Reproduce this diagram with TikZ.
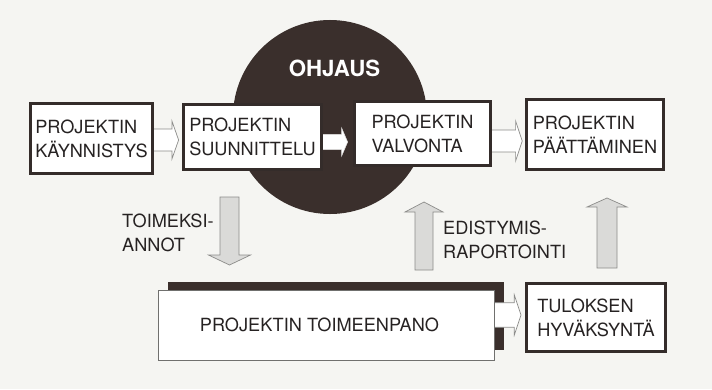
\documentclass[tikz,border=0pt]{standalone}
\usepackage{fontspec}
\setmainfont{TeX Gyre Heros}
\usetikzlibrary{calc}

\definecolor{paper}{RGB}{245,245,242}
\definecolor{steer}{RGB}{58,47,44}
\definecolor{frame}{RGB}{52,44,42}
\definecolor{ink}{RGB}{38,34,34}
\definecolor{stipple}{RGB}{218,218,216}
\definecolor{rim}{RGB}{140,140,138}

% block arrow: style, tail, tip, shaft half width, head half width, head length
\newcommand\blockarrow[6]{%
  \coordinate (ba-h) at ($(#3)!#6!(#2)$);
  \path[#1] ($(#2)!#4!90:(#3)$) -- ($(ba-h)!#4!90:(#3)$) -- ($(ba-h)!#5!90:(#3)$)
    -- (#3) -- ($(ba-h)!#5!-90:(#3)$) -- ($(ba-h)!#4!-90:(#3)$)
    -- ($(#2)!#4!-90:(#3)$) -- cycle;}

\begin{document}
\begin{tikzpicture}[x=0.03cm,y=-0.03cm,
  txt/.style={font=\fontsize{15.5}{20.5}\selectfont, text=ink},
  phasebox/.style={txt, draw=frame, line width=2.6pt, fill=white, align=left,
    inner sep=0pt},
  hollowarrow/.style={fill=white, draw=rim, line width=0.6pt, line join=miter},
  solidarrow/.style={fill=white, draw=white!85!steer, line width=0.5pt},
  flowarrow/.style={fill=stipple, draw=rim, line width=0.6pt},
  caption/.style={txt, align=left, inner sep=0pt, anchor=west}]

% paper
\path[fill=paper, use as bounding box] (0,0) rectangle (712,389);

% steering disc
\node[circle, fill=steer, minimum size=5.82cm, inner sep=0pt] (ohjaus) at (330,117) {};
\node[font=\fontsize{19}{22}\selectfont\bfseries, text=white] (ohjauslabel) at (334.5,68.5) {OHJAUS};

% positions of the phase boxes
\coordinate (p1) at (91.5,138.5);
\coordinate (p2) at (252.5,137);
\coordinate (p3) at (422.5,133.5);
\coordinate (p4) at (595,134.5);
\coordinate (p6) at (596,317.5);

% invisible anchors for the arrows between the top boxes
\path (p1) node[minimum width=3.66cm, minimum height=2.1cm] (b1a) {}
      (p2) node[minimum width=4.14cm, minimum height=1.95cm] (b2a) {}
      (p3) node[minimum width=4.08cm, minimum height=1.92cm] (b3a) {}
      (p4) node[minimum width=4.11cm, minimum height=2.1cm] (b4a) {};

\coordinate (a12t) at (b1a.east |- 0,140);
\coordinate (a12h) at ([xshift=-0.14cm]b2a.west |- 0,140);
\coordinate (a23t) at (b2a.east |- 0,142);
\coordinate (a23h) at ([xshift=-0.2cm]b3a.west |- 0,142);
\coordinate (a34t) at (b3a.east |- 0,141);
\coordinate (a34h) at ([xshift=-0.12cm]b4a.west |- 0,141);

\blockarrow{hollowarrow}{a12t}{a12h}{0.33cm}{0.57cm}{0.2cm}
\blockarrow{solidarrow}{a23t}{a23h}{0.23cm}{0.42cm}{0.18cm}
\blockarrow{hollowarrow}{a34t}{a34h}{0.33cm}{0.6cm}{0.2cm}

% phase boxes
\node[phasebox, minimum width=3.66cm, minimum height=2.1cm] (b1) at (p1)
  {PROJEKTIN\\KÄYNNISTYS};
\node[phasebox, minimum width=4.14cm, minimum height=1.95cm] (b2) at (p2)
  {PROJEKTIN\\SUUNNITTELU};
\node[phasebox, minimum width=4.08cm, minimum height=1.92cm] (b3) at (p3)
  {PROJEKTIN\\VALVONTA};
\node[phasebox, minimum width=4.11cm, minimum height=2.1cm] (b4) at (p4)
  {PROJEKTIN\\PÄÄTTÄMINEN};

% execution box with its dark backing
\node[fill=steer, minimum width=10.08cm, minimum height=2.04cm, inner sep=0pt]
  (b5back) at (336,316) {};
\node[minimum width=10.08cm, minimum height=2.1cm, inner sep=0pt] (b5a) at (326,325) {};
\coordinate (a56t) at (b5a.east |- 0,315);
\node[phasebox, minimum width=4.17cm, minimum height=2.04cm] (b6) at (p6)
  {TULOKSEN\\HYVÄKSYNTÄ};
\coordinate (a56h) at ([xshift=-0.12cm]b6.west |- 0,315);
\blockarrow{hollowarrow}{a56t}{a56h}{0.37cm}{0.6cm}{0.2cm}
\node[draw=rim!80!black, line width=0.8pt, fill=white, inner sep=0pt,
  minimum width=10.08cm, minimum height=2.1cm] (b5) at (326,325) {};
\node[txt, inner sep=0pt] (b5label) at (319.5,325) {PROJEKTIN TOIMEENPANO};

% assignment and reporting flows
\coordinate (dnT) at (229.5,197);
\coordinate (dnH) at (229.5,265);
\coordinate (upT) at (424,270);
\coordinate (upH) at (424,202);
\coordinate (okT) at (607,268);
\coordinate (okH) at (607,198);
\blockarrow{flowarrow}{dnT}{dnH}{0.285cm}{0.63cm}{0.3cm}
\blockarrow{flowarrow}{upT}{upH}{0.27cm}{0.57cm}{0.3cm}
\blockarrow{flowarrow}{okT}{okH}{0.3cm}{0.6cm}{0.27cm}

\node[caption] (toimeksi) at (122,232.5) {TOIMEKSI-\\ANNOT};
\node[caption] (edistymis) at (443,240) {EDISTYMIS-\\RAPORTOINTI};
\end{tikzpicture}
\end{document}
